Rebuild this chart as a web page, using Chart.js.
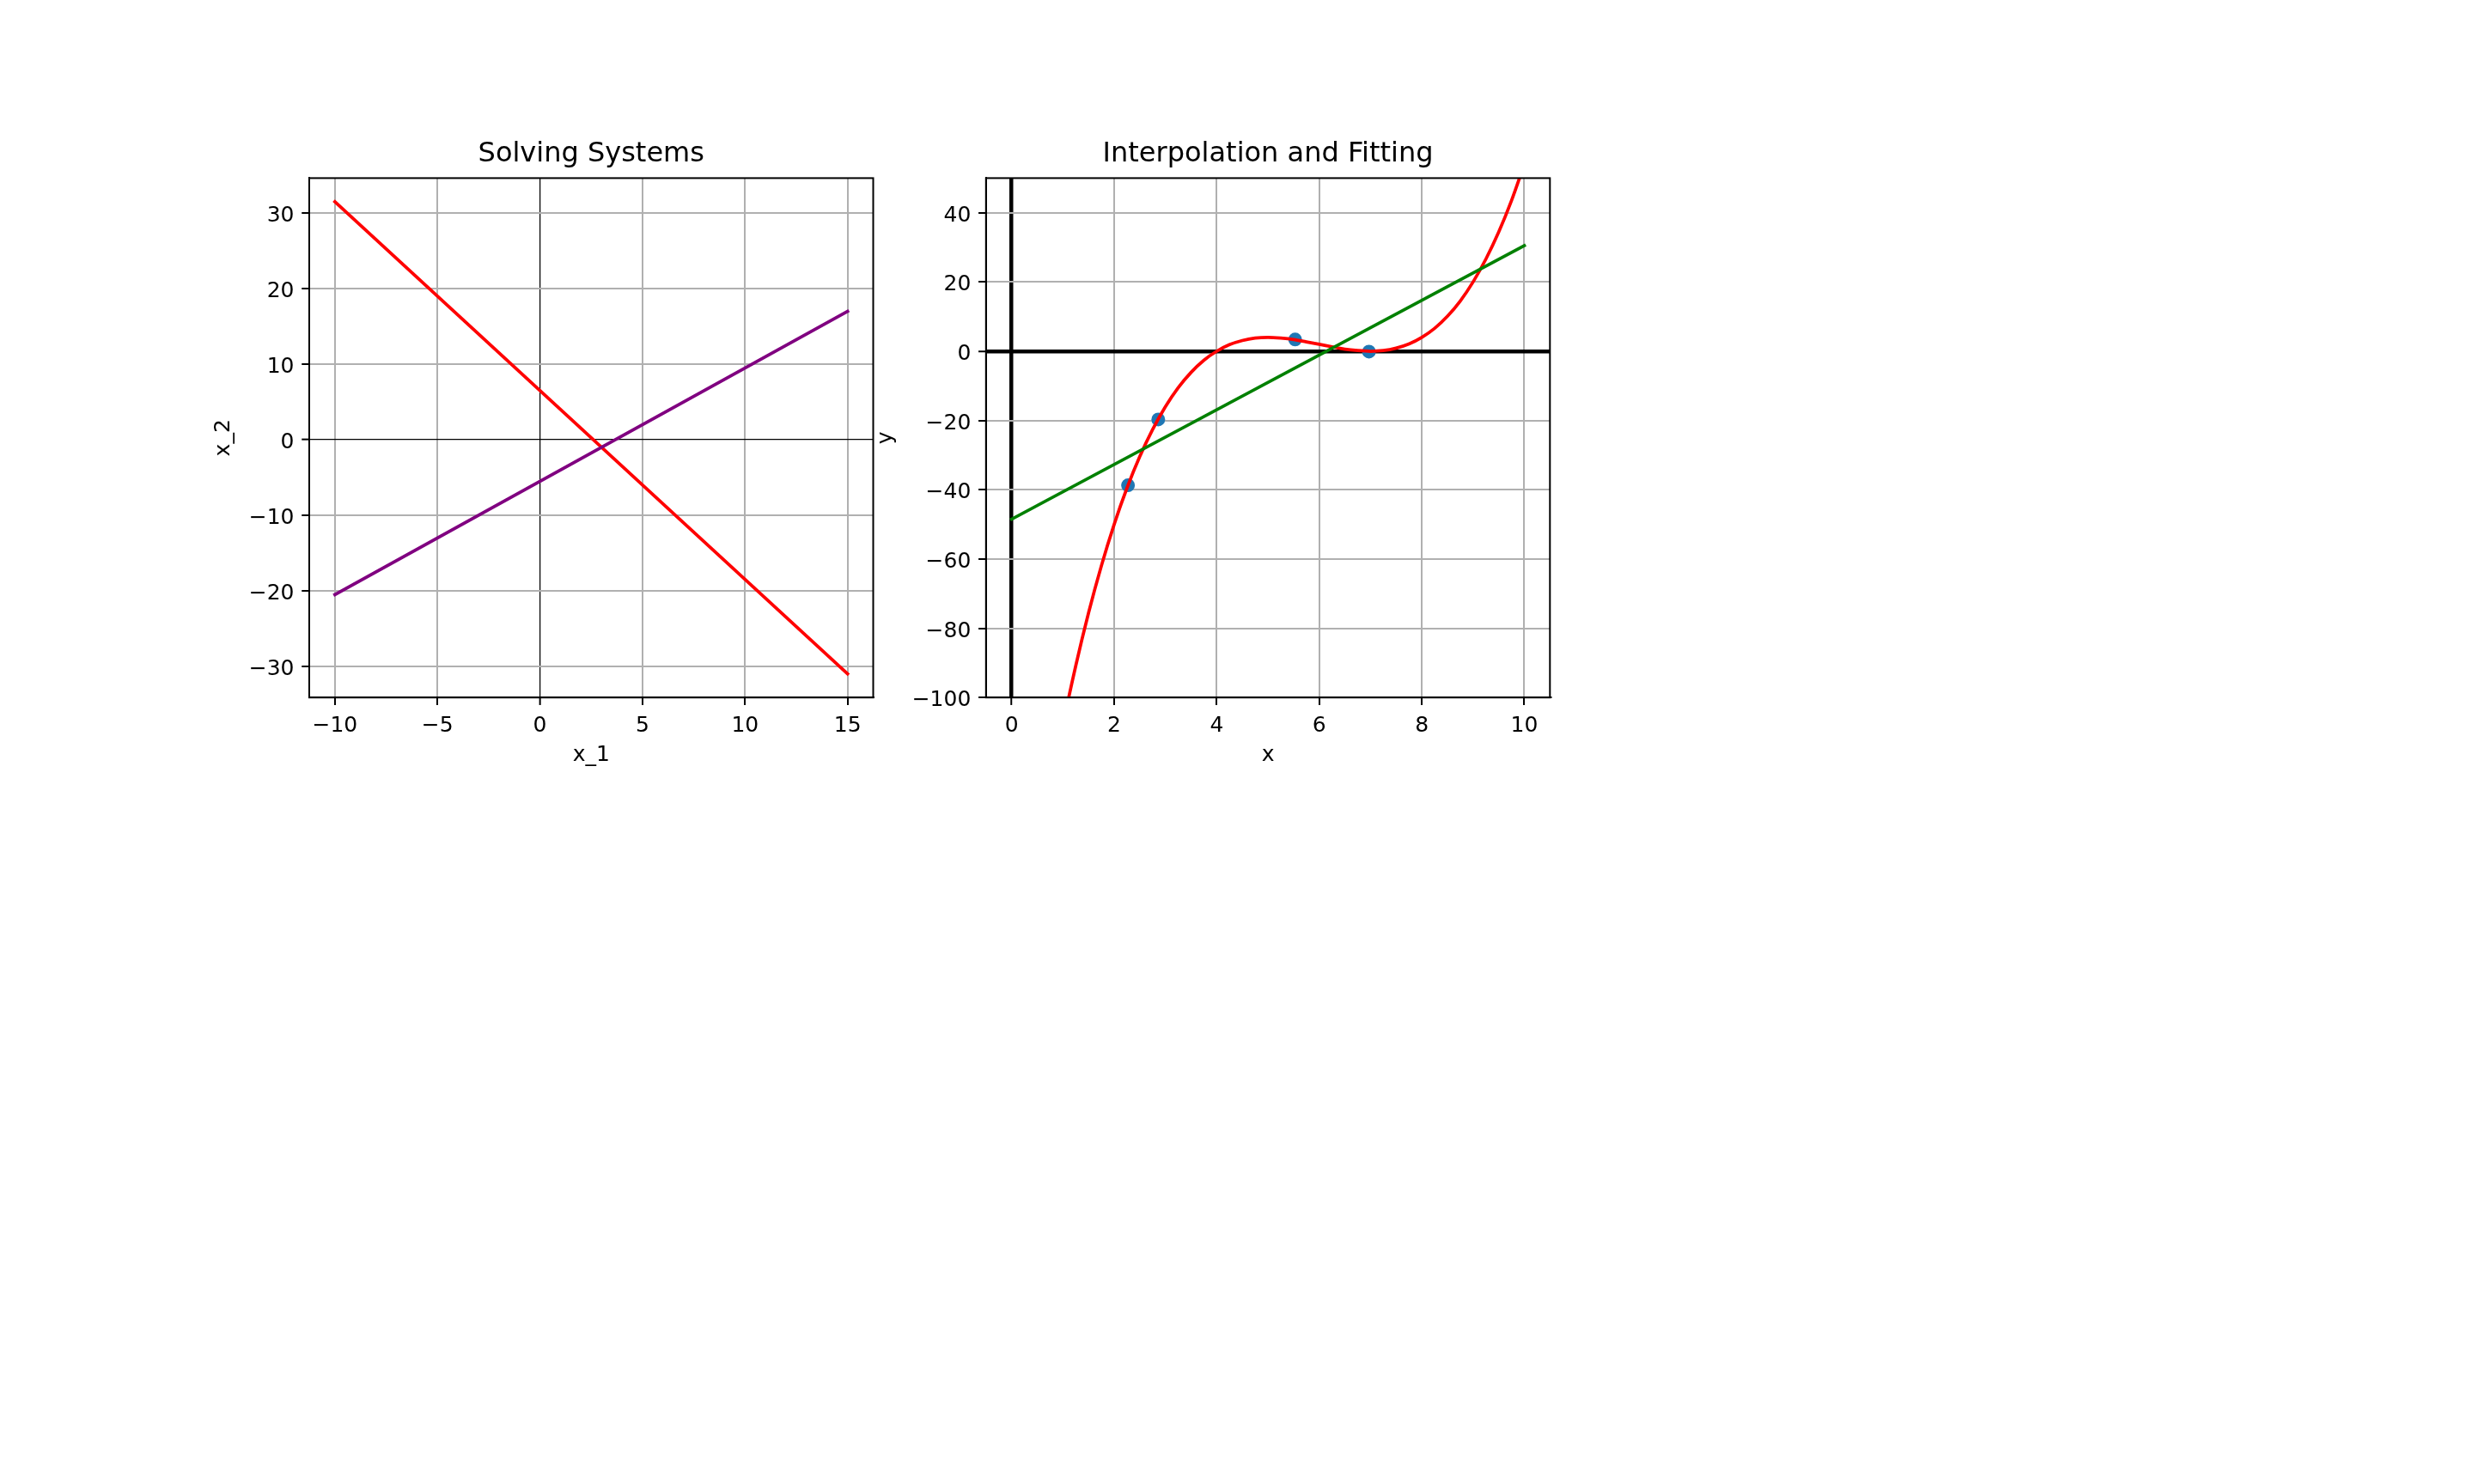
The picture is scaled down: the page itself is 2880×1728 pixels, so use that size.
<!DOCTYPE html>
<html>
<head>
<meta charset="utf-8">
<title>Solving Systems / Interpolation and Fitting</title>
<script src="https://cdn.jsdelivr.net/npm/chart.js@4/dist/chart.umd.min.js"></script>
<style>
  html, body { margin: 0; padding: 0; background: #fff; }
  body { width: 2880px; height: 1728px; position: relative; overflow: hidden; }
  canvas { position: absolute; }
  #systemChart { left: 100px; top: 100px; }
  #fitChart { left: 880px; top: 100px; }
</style>
</head>
<body>
<canvas id="systemChart" width="960" height="900"></canvas>
<canvas id="fitChart" width="960" height="900"></canvas>
<script>
// ===== left panel: the two equations of the system =====
const sysX = [-10, 15];
const eq1Y = [31.5, -31];     // red
const eq2Y = [-20.5, 17];     // purple

// ===== right panel: samples, interpolating curve, linear fit =====
const sampleX = [2.27, 2.86, 5.53, 6.97];
const sampleY = [-38.7, -19.7, 3.4, -0.1];

const curveX = [0, 0.25, 0.5, 0.75, 1, 1.25, 1.5, 1.75, 2, 2.25, 2.5, 2.75, 3, 3.25, 3.5, 3.75,
                4, 4.25, 4.5, 4.75, 5, 5.25, 5.5, 5.75, 6, 6.25, 6.5, 6.75, 7, 7.25, 7.5, 7.75,
                8, 8.25, 8.5, 8.75, 9, 9.25, 9.5, 9.75, 10];
const curveY = [-196, -170.9, -147.9, -127, -108, -90.9, -75.6, -62, -50, -39.5, -30.4, -22.6, -16, -10.5, -6.1, -2.6,
                0, 1.9, 3.1, 3.8, 4, 3.8, 3.4, 2.7, 2, 1.3, 0.6, 0.2, 0, 0.2, 0.9, 2.1,
                4, 6.6, 10.1, 14.5, 20, 26.6, 34.4, 43.5, 54];

const fitX = [0, 10];
const fitY = [-48.5, 30.5];

const FONT = "DejaVu Sans";
const GRID = "#b0b0b0";

const toPts = (xs, ys) => xs.map((x, i) => ({ x: x, y: ys[i] }));
// matplotlib style minus sign
const fmt = v => (v < 0 ? "\u2212" + (-v) : String(v));

// spines on all four sides
const framePlugin = {
    id: "frame",
    afterDatasetsDraw(chart) {
        const { ctx, chartArea: a } = chart;
        ctx.save();
        ctx.strokeStyle = "#000";
        ctx.lineWidth = 2;
        ctx.strokeRect(a.left, a.top, a.right - a.left, a.bottom - a.top);
        ctx.restore();
    }
};

function makeScale(min, max, step, title, titlePad, size, zeroWidth, isX) {
    const isZero = c => c.tick && c.tick.value === 0;
    return {
        type: "linear",
        min: min,
        max: max,
        ticks: {
            stepSize: step,
            includeBounds: false,
            autoSkip: false,
            maxRotation: 0,
            padding: isX ? 9.25 : 8.75,
            labelOffset: isX ? 0 : 3.5,
            color: "#000",
            font: { family: FONT, size: 25 },
            callback: fmt
        },
        grid: {
            color: c => (isZero(c) ? "#000" : GRID),
            lineWidth: c => (isZero(c) ? zeroWidth : 2),
            tickColor: "#000",
            tickWidth: 2,
            tickLength: 8.75
        },
        border: { display: true, color: "#000", width: 2 },
        title: {
            display: true,
            text: title,
            color: "#000",
            font: { family: FONT, size: 25 },
            padding: isX ? { top: 0, bottom: titlePad } : { top: titlePad, bottom: 0 }
        },
        afterFit: s => {
            if (isX) s.height = size; else s.width = size;
        }
    };
}

function titleOpts(text) {
    return {
        display: true,
        text: text,
        fullSize: false,
        color: "#000",
        font: { family: FONT, size: 32, weight: "normal" },
        padding: { top: 60.8, bottom: 8.2 }
    };
}

const baseOpts = {
    responsive: false,
    animation: false,
    devicePixelRatio: 1,
    events: []
};

// ---- Solving Systems ----
new Chart(document.getElementById("systemChart"), {
    type: "scatter",
    data: {
        datasets: [
            { data: toPts(sysX, eq2Y), showLine: true, borderColor: "#800080", borderWidth: 3.75,
              pointRadius: 0, borderCapStyle: "square", order: 1 },
            { data: toPts(sysX, eq1Y), showLine: true, borderColor: "#ff0000", borderWidth: 3.75,
              pointRadius: 0, borderCapStyle: "square", order: 2 }
        ]
    },
    options: Object.assign({}, baseOpts, {
        layout: { padding: { left: 0, top: 0, right: 43.5, bottom: 0 } },
        plugins: {
            legend: { display: false },
            tooltip: { enabled: false },
            title: titleOpts("Solving Systems")
        },
        scales: {
            x: makeScale(-11.25, 16.25, 5, "x_1", 105.8, 187.8, 1.25, true),
            y: makeScale(-34.125, 34.625, 10, "x_2", 145.8, 260, 1.25, false)
        }
    }),
    plugins: [framePlugin]
});

// ---- Interpolation and Fitting ----
new Chart(document.getElementById("fitChart"), {
    type: "scatter",
    data: {
        datasets: [
            { data: toPts(fitX, fitY), showLine: true, borderColor: "#008000", borderWidth: 3.75,
              pointRadius: 0, borderCapStyle: "square", order: 1 },
            { data: toPts(curveX, curveY), showLine: true, borderColor: "#ff0000", borderWidth: 3.75,
              pointRadius: 0, cubicInterpolationMode: "monotone", clip: 0, order: 2 },
            { data: toPts(sampleX, sampleY), showLine: false, pointRadius: 8,
              backgroundColor: "#1f77b4", borderWidth: 0, order: 3 }
        ]
    },
    options: Object.assign({}, baseOpts, {
        layout: { padding: { left: 0, top: 0, right: 35.7, bottom: 0 } },
        plugins: {
            legend: { display: false },
            tooltip: { enabled: false },
            title: titleOpts("Interpolation and Fitting")
        },
        scales: {
            x: makeScale(-0.5, 10.5, 2, "x", 105.8, 187.8, 4.5, true),
            y: makeScale(-100, 50, 20, "y", 136.5, 267.8, 4.5, false)
        }
    }),
    plugins: [framePlugin]
});
</script>
</body>
</html>
